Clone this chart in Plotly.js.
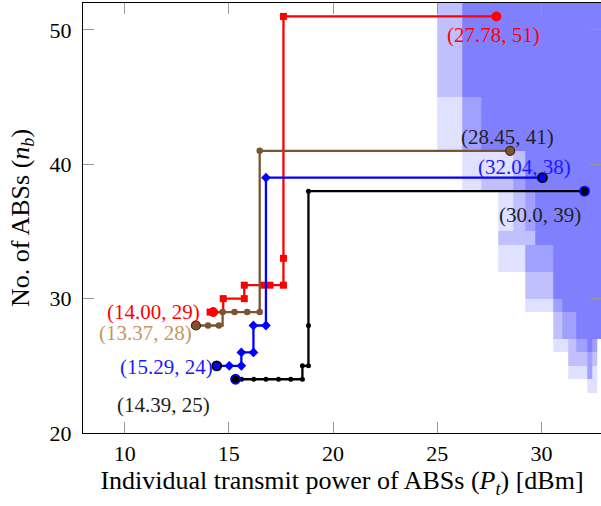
<!DOCTYPE html>
<html>
<head>
<meta charset="utf-8">
<script src="https://cdn.plot.ly/plotly-3.0.1.min.js"></script>
<style>html,body{margin:0;padding:0;background:#fff;}#chart{width:601px;height:506px;}</style>
</head>
<body>
<div id="chart"></div>
<script>
// ---- Shaded region (levels 1..4), x/y cell edges ----
const regionXEdges = [25.0, 26.21, 27.13, 27.94, 28.63, 29.22, 29.70, 30.58, 30.98, 31.30, 31.65, 32.18, 32.46, 32.70, 33.0];
const regionYEdges = [23, 24, 25, 26, 27, 29, 30, 32, 34, 35, 38, 39, 41, 45, 52];
const regionLevels = [
  [0,0,0,0,0,0,0,0,0,0,0,1,1,0],
  [0,0,0,0,0,0,0,0,0,1,1,3,1,0],
  [0,0,0,0,0,0,0,0,0,2,2,3,2,0],
  [0,0,0,0,0,0,0,1,1,2,3,4,3,0],
  [0,0,0,0,0,0,0,2,3,3,4,4,4,4],
  [0,0,0,0,0,1,1,3,4,4,4,4,4,4],
  [0,0,0,0,0,2,2,4,4,4,4,4,4,4],
  [0,0,0,1,1,3,3,4,4,4,4,4,4,4],
  [0,0,0,2,2,2,4,4,4,4,4,4,4,4],
  [0,0,0,1,2,3,4,4,4,4,4,4,4,4],
  [0,1,2,2,3,4,4,4,4,4,4,4,4,4],
  [0,1,1,1,2,4,4,4,4,4,4,4,4,4],
  [1,3,4,4,4,4,4,4,4,4,4,4,4,4],
  [2,4,4,4,4,4,4,4,4,4,4,4,4,4]
];

// ---- Series ----
const redX   = [14.10, 14.73, 15.74, 15.74, 16.65, 16.97, 17.62, 17.62, 17.62, 27.84];
const redY   = [29, 30, 30, 31, 31, 31, 31, 33, 51, 51];
const brownX = [13.42, 14.00, 14.52, 14.70, 15.27, 15.88, 16.48, 16.48, 28.50];
const brownY = [28, 28, 28, 29, 29, 29, 29, 41, 41];
const blueX  = [14.42, 15.02, 15.60, 15.60, 16.18, 16.18, 16.78, 16.78, 30.05];
const blueY  = [25, 25, 25, 26, 26, 28, 28, 39, 39];
const blackX = [15.32, 15.61, 16.20, 16.78, 17.38, 17.97, 18.53, 18.53, 18.82, 18.82, 18.82, 32.07];
const blackY = [24, 24, 24, 24, 24, 24, 24, 25, 25, 28, 38, 38];

// start / end marker points
const redEnds   = {x: [14.25, 27.84], y: [29, 51]};
const brownEnds = {x: [13.42, 28.50], y: [28, 41]};
const blueEnds  = {x: [14.42, 30.05], y: [25, 39]};
const blackEnds = {x: [15.32, 32.07], y: [24, 38]};

// labels
const labelText  = ["(14.00, 29)", "(13.37, 28)", "(15.29, 24)", "(14.39, 25)", "(27.78, 51)", "(28.45, 41)", "(32.04, 38)", "(30.0, 39)"];
const labelX     = [11.38, 10.98, 12.03, 11.84, 27.71, 28.39, 29.19, 29.93];
const labelY     = [29.03, 27.44, 24.91, 22.08, 49.61, 42.04, 39.80, 36.22];
const labelColor = ["#ff0000", "#c8955f", "#1a1aff", "#222222", "#ff0000", "#222222", "#1a1aff", "#222222"];

const xTicks = [10, 15, 20, 25, 30];
const yTicks = [20, 30, 40, 50];

const FONT = "Times New Roman";
const BROWN = "#7a5530";

const zData = regionLevels.map(r => r.map(v => v === 0 ? null : v));

const traces = [
  {
    type: "heatmap", x: regionXEdges, y: regionYEdges, z: zData,
    zmin: 0.5, zmax: 4.5, showscale: false, hoverinfo: "skip", zsmooth: false,
    colorscale: [[0, "#e0e0ff"], [0.25, "#e0e0ff"], [0.25, "#c0c0ff"], [0.5, "#c0c0ff"],
                 [0.5, "#a0a0ff"], [0.75, "#a0a0ff"], [0.75, "#8080ff"], [1, "#8080ff"]]
  },
  {type: "scatter", mode: "lines+markers", x: redX, y: redY, line: {color: "#ff0000", width: 2.3, shape: "hv"},
   marker: {symbol: "square", size: 7, color: "#ff0000"}},
  {type: "scatter", mode: "lines+markers", x: brownX, y: brownY, line: {color: BROWN, width: 2.3, shape: "hv"},
   marker: {symbol: "circle", size: 6.5, color: BROWN}},
  {type: "scatter", mode: "lines+markers", x: blueX, y: blueY, line: {color: "#0000ff", width: 2.3, shape: "hv"},
   marker: {symbol: "diamond", size: 7.5, color: "#0000ff"}},
  {type: "scatter", mode: "lines+markers", x: blackX, y: blackY, line: {color: "#000000", width: 2.3, shape: "hv"},
   marker: {symbol: "circle", size: 5, color: "#000000"}},
  {type: "scatter", mode: "markers", x: redEnds.x, y: redEnds.y,
   marker: {symbol: "circle", size: 9, color: "#ff0000", line: {color: "#ff0000", width: 1}}},
  {type: "scatter", mode: "markers", x: brownEnds.x, y: brownEnds.y,
   marker: {symbol: "circle", size: 9, color: BROWN, line: {color: "#3a2510", width: 1.2}}},
  {type: "scatter", mode: "markers", x: blueEnds.x, y: blueEnds.y,
   marker: {symbol: "circle", size: 9, color: "#0000ff", line: {color: "#000000", width: 1.8}}},
  {type: "scatter", mode: "markers", x: blackEnds.x, y: blackEnds.y,
   marker: {symbol: "circle", size: 9, color: "#000000", line: {color: "#0000ff", width: 1.8}}}
];

const annotations = labelText.map((t, i) => ({
  x: labelX[i], y: labelY[i], xref: "x", yref: "y", text: t, showarrow: false,
  xanchor: "center", yanchor: "middle", font: {family: FONT, size: 21, color: labelColor[i]}
}));

const layout = {
  width: 601, height: 506,
  margin: {l: 83, r: 0, t: 3, b: 73, pad: 0},
  paper_bgcolor: "#ffffff", plot_bgcolor: "#ffffff",
  showlegend: false,
  font: {family: FONT, size: 22, color: "#000"},
  xaxis: {
    range: [8, 32.86], tickvals: xTicks, ticktext: xTicks.map(String),
    ticks: "inside", ticklen: 11, tickcolor: "#9a9a9a", tickwidth: 1,
    showline: true, linecolor: "#000", linewidth: 1, mirror: "ticks",
    showgrid: false, zeroline: false, ticklabelstandoff: 1,
    tickfont: {family: FONT, size: 22, color: "#000"},
    title: {text: "Individual transmit power of ABSs (<i>P<sub>t</sub></i>) [dBm]", font: {family: FONT, size: 26, color: "#000"}, standoff: 3}
  },
  yaxis: {
    range: [20, 52], tickvals: yTicks, ticktext: yTicks.map(String),
    ticks: "inside", ticklen: 11, tickcolor: "#9a9a9a", tickwidth: 1,
    showline: true, linecolor: "#000", linewidth: 1, mirror: "ticks",
    showgrid: false, zeroline: false, ticklabelstandoff: 6,
    tickfont: {family: FONT, size: 22, color: "#000"},
    title: {text: "No. of ABSs (<i>n<sub>b</sub></i>)", font: {family: FONT, size: 26, color: "#000"}, standoff: 12}
  },
  annotations: annotations
};

Plotly.newPlot("chart", traces, layout, {staticPlot: true, displayModeBar: false});
</script>
</body>
</html>
